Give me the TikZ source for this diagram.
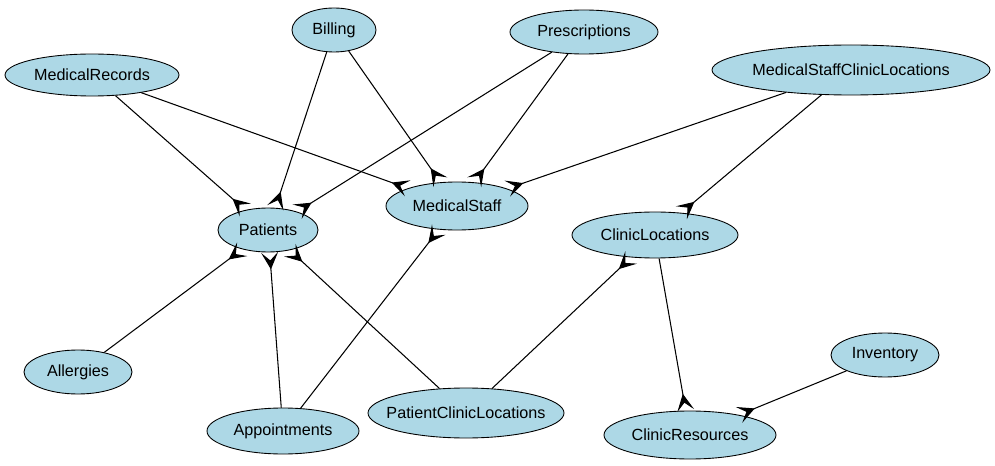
\documentclass[tikz,border=0pt]{standalone}
\usepackage{fontspec}
\setmainfont{Liberation Sans}
\usetikzlibrary{shapes.geometric,arrows.meta}
\definecolor{lightblue}{RGB}{173,216,230}

\begin{document}
\begin{tikzpicture}[x=0.02cm,y=-0.02cm]
      \useasboundingbox (0,0) rectangle (995,466);
      \begin{scope}[every node/.style={ellipse,draw,fill=lightblue,line width=0.5pt,inner sep=0pt,font=\fontsize{9.2}{11}\selectfont}]
        \node[minimum width=84*0.02cm,minimum height=44*0.02cm] (billing) at (334,30) {\makebox[0pt]{Billing}};
        \node[minimum width=148*0.02cm,minimum height=44*0.02cm] (prescriptions) at (584,32) {\makebox[0pt]{Prescriptions}};
        \node[minimum width=174*0.02cm,minimum height=42*0.02cm] (records) at (92,75) {\makebox[0pt]{MedicalRecords}};
        \node[minimum width=278*0.02cm,minimum height=50*0.02cm] (staffloc) at (851,70) {\makebox[0pt]{MedicalStaffClinicLocations}};
        \node[minimum width=100*0.02cm,minimum height=44*0.02cm] (patients) at (268,230) {\makebox[0pt]{Patients}};
        \node[minimum width=142*0.02cm,minimum height=48*0.02cm] (staff) at (457,206) {\makebox[0pt]{MedicalStaff}};
        \node[minimum width=166*0.02cm,minimum height=46*0.02cm] (locations) at (655,235) {\makebox[0pt]{ClinicLocations}};
        \node[minimum width=108*0.02cm,minimum height=44*0.02cm] (allergies) at (78,372) {\makebox[0pt]{Allergies}};
        \node[minimum width=152*0.02cm,minimum height=46*0.02cm] (appointments) at (283,431) {\makebox[0pt]{Appointments}};
        \node[minimum width=196*0.02cm,minimum height=50*0.02cm] (patientloc) at (466,413) {\makebox[0pt]{PatientClinicLocations}};
        \node[minimum width=108*0.02cm,minimum height=44*0.02cm] (inventory) at (885,355) {\makebox[0pt]{Inventory}};
        \node[minimum width=172*0.02cm,minimum height=48*0.02cm] (resources) at (690,435) {\makebox[0pt]{ClinicResources}};
      \end{scope}
      \begin{scope}[every edge/.style={draw,line width=0.6pt,-{Stealth[reversed,length=3.4mm,width=3.4mm,inset=1.6mm]}}]
        \path (records) edge (patients);
        \path (records) edge (staff);
        \path (billing) edge (patients);
        \path (billing) edge (staff);
        \path (prescriptions) edge (patients);
        \path (prescriptions) edge (staff);
        \path (staffloc) edge (staff);
        \path (staffloc) edge (locations);
        \path (allergies) edge (patients);
        \path (appointments) edge (patients);
        \path (appointments) edge (staff);
        \path (patientloc) edge (patients);
        \path (patientloc) edge (locations);
        \path (locations) edge (resources);
        \path (inventory) edge (resources);
      \end{scope}
    \end{tikzpicture}
\end{document}
